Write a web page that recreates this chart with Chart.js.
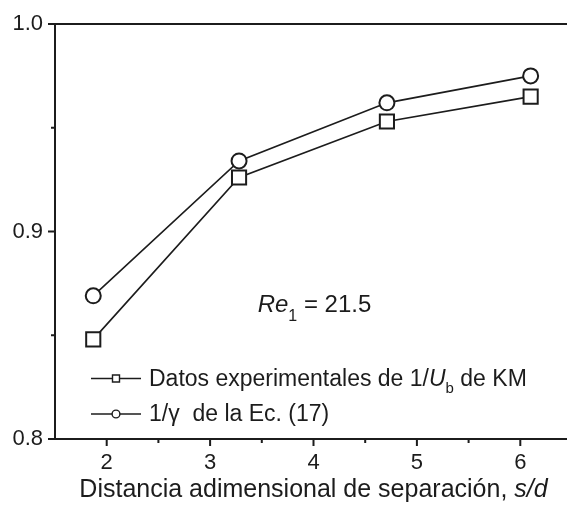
<!DOCTYPE html>
<html>
<head>
<meta charset="utf-8">
<script src="https://cdn.jsdelivr.net/npm/chart.js@4/dist/chart.umd.min.js"></script>
<title>Re1 = 21.5</title>
<style>
  html, body { margin: 0; padding: 0; background: #fff; overflow: hidden; }
  .wrap { width: 567px; height: 505px; overflow: hidden; }
</style>
</head>
<body>
<div class="wrap"><canvas id="chart" width="572" height="505"></canvas></div>
<script>
  // separation s/d and the two curves
  const sepX = [1.87, 3.28, 4.71, 6.10];
  const datosKM = [0.848, 0.926, 0.953, 0.965];
  const ecGamma = [0.869, 0.934, 0.962, 0.975];
  const xTicks = [2, 3, 4, 5, 6];
  const xMinor = [2.5, 3.5, 4.5, 5.5];
  const yTicks = [0.8, 0.9, 1.0];
  const yMinor = [0.85, 0.95];

  const ink = '#1c1c1c';
  const FONT = '"Liberation Sans", Arial, sans-serif';

  // draws runs of text, each {t, it, sub}
  function drawRuns(ctx, runs, x, y, size, subSize, subDrop) {
    runs.forEach(r => {
      const fs = r.sub ? subSize : size;
      ctx.font = (r.it ? 'italic ' : '') + fs + 'px ' + FONT;
      ctx.fillText(r.t, x, y + (r.sub ? subDrop : 0));
      x += ctx.measureText(r.t).width;
    });
    return x;
  }
  function runsWidth(ctx, runs, size, subSize) {
    let w = 0;
    runs.forEach(r => {
      ctx.font = (r.it ? 'italic ' : '') + (r.sub ? subSize : size) + 'px ' + FONT;
      w += ctx.measureText(r.t).width;
    });
    return w;
  }

  const frame = {
    id: 'frame',
    afterDatasetsDraw(chart) {
      const ctx = chart.ctx, a = chart.chartArea;
      const xs = chart.scales.x, ys = chart.scales.y;
      ctx.save();
      ctx.strokeStyle = ink;
      ctx.lineWidth = 2;
      ctx.strokeRect(a.left, a.top, a.right - a.left, a.bottom - a.top);
      ctx.beginPath();
      xTicks.forEach(v => { const p = xs.getPixelForValue(v); ctx.moveTo(p, a.bottom); ctx.lineTo(p, a.bottom + 7); });
      xMinor.forEach(v => { const p = xs.getPixelForValue(v); ctx.moveTo(p, a.bottom); ctx.lineTo(p, a.bottom + 4); });
      yTicks.forEach(v => { const p = ys.getPixelForValue(v); ctx.moveTo(a.left, p); ctx.lineTo(a.left - 7, p); });
      yMinor.forEach(v => { const p = ys.getPixelForValue(v); ctx.moveTo(a.left, p); ctx.lineTo(a.left - 4, p); });
      ctx.stroke();

      ctx.fillStyle = ink;
      ctx.textBaseline = 'alphabetic';
      ctx.textAlign = 'left';

      // Re1 note
      drawRuns(ctx, [{t: 'Re', it: true}, {t: '1', sub: true}, {t: ' = 21.5'}],
        xs.getPixelForValue(3.46), ys.getPixelForValue(0.8612), 24, 16, 9);

      // legend
      const sets = chart.data.datasets;
      const lx = a.left + 36, rows = [378.5, 414];
      const texts = [
        [{t: 'Datos experimentales de 1/'}, {t: 'U', it: true}, {t: 'b', sub: true}, {t: ' de KM'}],
        [{t: '1/\u03b3  de la Ec. (17)'}]
      ];
      sets.forEach((ds, i) => {
        const y = rows[i];
        ctx.lineWidth = 1.6;
        ctx.beginPath();
        ctx.moveTo(lx, y); ctx.lineTo(lx + 50, y);
        ctx.stroke();
        ctx.fillStyle = '#fff';
        ctx.lineWidth = 1.4;
        ctx.beginPath();
        if (ds.pointStyle === 'rect') ctx.rect(lx + 21.5, y - 3.5, 7, 7);
        else ctx.arc(lx + 25, y, 3.9, 0, Math.PI * 2);
        ctx.fill(); ctx.stroke();
        ctx.fillStyle = ink;
        drawRuns(ctx, texts[i], lx + 58, y + 7, 23, 15, 7);
      });

      // axis title
      const title = [{t: 'Distancia adimensional de separaci\u00f3n, '}, {t: 's/d', it: true}];
      const tw = runsWidth(ctx, title, 25, 15);
      drawRuns(ctx, title, (a.left + a.right) / 2 - tw / 2, 497, 25, 15, 0);
      ctx.restore();
    }
  };

  new Chart(document.getElementById('chart'), {
    type: 'scatter',
    data: {
      datasets: [
        { label: 'Datos experimentales de 1/Ub de KM',
          data: sepX.map((x, i) => ({x: x, y: datosKM[i]})),
          showLine: true, borderColor: ink, borderWidth: 1.6,
          pointStyle: 'rect', pointRadius: 10, pointBorderWidth: 2,
          pointBackgroundColor: '#fff', pointBorderColor: ink },
        { label: '1/\u03b3 de la Ec. (17)',
          data: sepX.map((x, i) => ({x: x, y: ecGamma[i]})),
          showLine: true, borderColor: ink, borderWidth: 1.6,
          pointStyle: 'circle', pointRadius: 7.5, pointBorderWidth: 2,
          pointBackgroundColor: '#fff', pointBorderColor: ink }
      ]
    },
    options: {
      responsive: false,
      animation: false,
      layout: { autoPadding: false, padding: { top: 24, left: 0, right: 0, bottom: 0 } },
      plugins: { legend: { display: false }, tooltip: { enabled: false } },
      scales: {
        x: {
          type: 'linear', min: 1.5, max: 6.5,
          grid: { display: false, drawTicks: false, tickLength: 0 }, border: { display: false },
          afterBuildTicks: s => { s.ticks = xTicks.map(v => ({value: v})); },
          afterFit: s => { s.height = 66; s.paddingLeft = 0; s.paddingRight = 0; },
          ticks: { padding: 11, color: ink, maxRotation: 0,
            font: { family: FONT, size: 22 }, callback: v => String(v) }
        },
        y: {
          min: 0.8, max: 1.0,
          grid: { display: false, drawTicks: false, tickLength: 0 }, border: { display: false },
          afterBuildTicks: s => { s.ticks = yTicks.map(v => ({value: v})); },
          afterFit: s => { s.width = 55; s.paddingTop = 0; s.paddingBottom = 0; },
          ticks: { padding: 12, color: ink,
            font: { family: FONT, size: 22 }, callback: v => v.toFixed(1) }
        }
      }
    },
    plugins: [frame]
  });
</script>
</body>
</html>
